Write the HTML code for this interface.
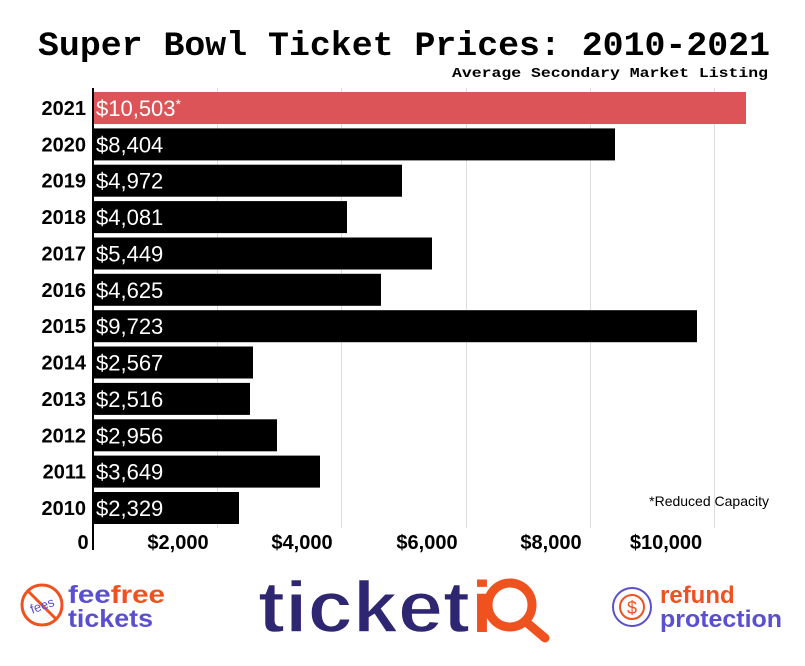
<!DOCTYPE html>
<html><head><meta charset="utf-8"><style>
html,body{margin:0;padding:0;background:#fff;}
svg{display:block;}
</style></head><body>
<svg width="805" height="666" viewBox="0 0 805 666" xmlns="http://www.w3.org/2000/svg">
<rect width="805" height="666" fill="#fff"/>
<text x="38" y="55" font-family="Liberation Mono, monospace" font-weight="bold" font-size="34" textLength="732" lengthAdjust="spacingAndGlyphs" fill="#000">Super Bowl Ticket Prices: 2010-2021</text>
<text x="452" y="77" font-family="Liberation Mono, monospace" font-weight="bold" font-size="14" textLength="316" lengthAdjust="spacingAndGlyphs" fill="#000">Average Secondary Market Listing</text>
<g stroke="#ddd" stroke-width="1">
<line x1="217.5" y1="88" x2="217.5" y2="528"/>
<line x1="341.5" y1="88" x2="341.5" y2="528"/>
<line x1="466.5" y1="88" x2="466.5" y2="528"/>
<line x1="590.5" y1="88" x2="590.5" y2="528"/>
<line x1="714.5" y1="88" x2="714.5" y2="528"/>
</g>
<g font-family="Liberation Sans, sans-serif" font-size="22" fill="#fff">
<rect x="94" y="92" width="652" height="32" fill="#dc5457"/>
<text x="96" y="116">$10,503<tspan font-size="14" dy="-7">*</tspan></text>
<rect x="94" y="128.4" width="521" height="32" fill="#000"/><text x="96" y="152.4">$8,404</text>
<rect x="94" y="164.7" width="308" height="32" fill="#000"/><text x="96" y="188.7">$4,972</text>
<rect x="94" y="201.1" width="253" height="32" fill="#000"/><text x="96" y="225.1">$4,081</text>
<rect x="94" y="237.5" width="338" height="32" fill="#000"/><text x="96" y="261.5">$5,449</text>
<rect x="94" y="273.8" width="287" height="32" fill="#000"/><text x="96" y="297.8">$4,625</text>
<rect x="94" y="310.2" width="603" height="32" fill="#000"/><text x="96" y="334.2">$9,723</text>
<rect x="94" y="346.5" width="159" height="32" fill="#000"/><text x="96" y="370.5">$2,567</text>
<rect x="94" y="382.9" width="156" height="32" fill="#000"/><text x="96" y="406.9">$2,516</text>
<rect x="94" y="419.3" width="183" height="32" fill="#000"/><text x="96" y="443.3">$2,956</text>
<rect x="94" y="455.6" width="226" height="32" fill="#000"/><text x="96" y="479.6">$3,649</text>
<rect x="94" y="492" width="145" height="32" fill="#000"/><text x="96" y="516">$2,329</text>
</g>
<line x1="93" y1="88" x2="93" y2="550" stroke="#000" stroke-width="2"/>
<g font-family="Liberation Sans, sans-serif" font-weight="bold" font-size="20" fill="#000" text-anchor="end">
<text x="86" y="115">2021</text>
<text x="86" y="151.4">2020</text>
<text x="86" y="187.7">2019</text>
<text x="86" y="224.1">2018</text>
<text x="86" y="260.5">2017</text>
<text x="86" y="296.8">2016</text>
<text x="86" y="333.2">2015</text>
<text x="86" y="369.5">2014</text>
<text x="86" y="405.9">2013</text>
<text x="86" y="442.3">2012</text>
<text x="86" y="478.6">2011</text>
<text x="86" y="515">2010</text>
</g>
<g font-family="Liberation Sans, sans-serif" font-weight="bold" font-size="20" fill="#000" text-anchor="middle">
<text x="83" y="549">0</text>
<text x="178" y="549">$2,000</text>
<text x="302" y="549">$4,000</text>
<text x="427" y="549">$6,000</text>
<text x="551" y="549">$8,000</text>
<text x="666" y="549">$10,000</text>
</g>
<text x="769" y="506" font-family="Liberation Sans, sans-serif" font-size="14" fill="#000" text-anchor="end">*Reduced Capacity</text>
<!-- feefree logo -->
<circle cx="42" cy="605" r="20" fill="none" stroke="#f0521f" stroke-width="3"/>
<line x1="28" y1="591" x2="56" y2="619" stroke="#f0521f" stroke-width="3"/>
<text x="42" y="610" font-family="Liberation Sans, sans-serif" font-size="13" fill="#5a4fcf" text-anchor="middle" transform="rotate(-20 42 605)">fees</text>
<text x="68" y="603" font-family="Liberation Sans, sans-serif" font-weight="bold" font-size="25" fill="#5a4fcf" textLength="97" lengthAdjust="spacingAndGlyphs">fee<tspan fill="#f0521f">free</tspan></text>
<text x="68" y="627" font-family="Liberation Sans, sans-serif" font-weight="bold" font-size="25" fill="#5a4fcf" textLength="85" lengthAdjust="spacingAndGlyphs">tickets</text>
<!-- ticketIQ -->
<text x="258" y="632" font-family="Liberation Sans, sans-serif" font-weight="bold" font-size="72" fill="#2e2670" stroke="#fff" stroke-width="1.5" textLength="212" lengthAdjust="spacingAndGlyphs">ticket</text>
<text x="472" y="632" font-family="Liberation Sans, sans-serif" font-weight="bold" font-size="72" fill="#f0521f">i</text>
<circle cx="510" cy="605" r="22" fill="none" stroke="#f0521f" stroke-width="9"/>
<line x1="525" y1="621" x2="545" y2="638" stroke="#f0521f" stroke-width="9" stroke-linecap="round"/>
<!-- refund -->
<circle cx="632" cy="607" r="19" fill="none" stroke="#5a4fcf" stroke-width="2"/>
<circle cx="632" cy="607" r="12" fill="none" stroke="#f0521f" stroke-width="2"/>
<text x="632" y="614" font-family="Liberation Sans, sans-serif" font-size="18" fill="#f0521f" text-anchor="middle">$</text>
<text x="660" y="603" font-family="Liberation Sans, sans-serif" font-weight="bold" font-size="24" fill="#f0521f">refund</text>
<text x="660" y="627" font-family="Liberation Sans, sans-serif" font-weight="bold" font-size="24" fill="#5a4fcf" textLength="122" lengthAdjust="spacingAndGlyphs">protection</text>
</svg>
</body></html>
